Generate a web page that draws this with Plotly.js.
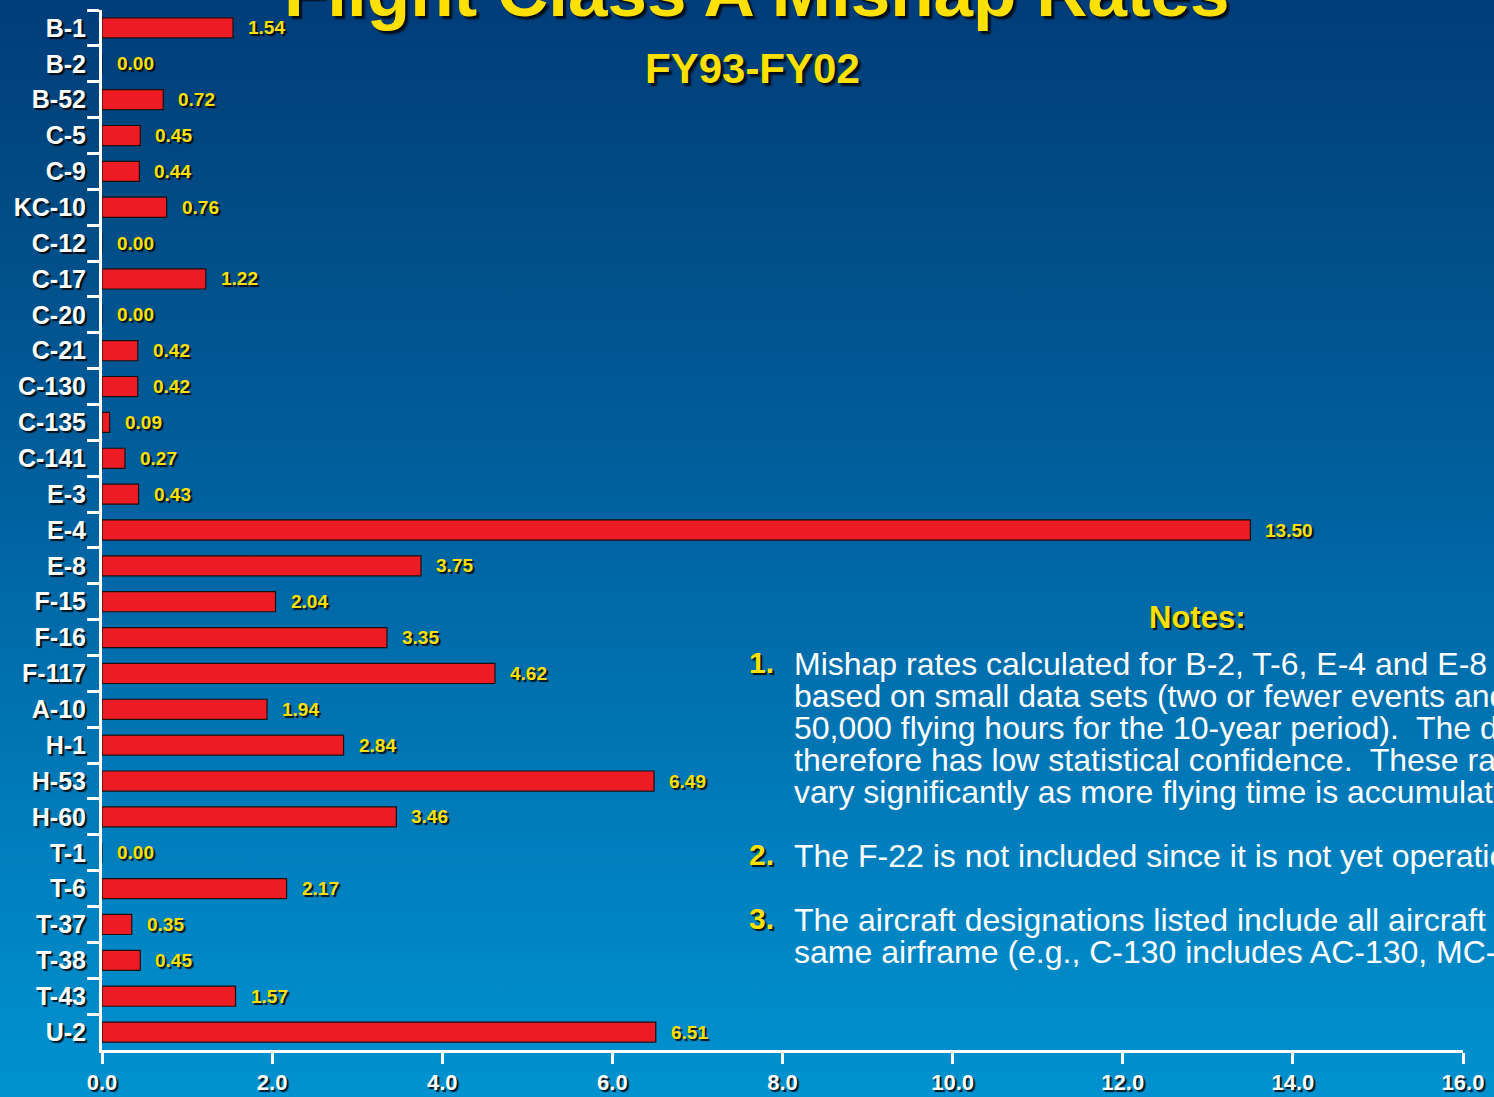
<!DOCTYPE html>
<html>
<head>
<meta charset="utf-8">
<script src="https://cdn.plot.ly/plotly-3.0.1.min.js"></script>
<style>
  html, body { margin: 0; padding: 0; }
  #chart {
    width: 1494px; height: 1097px;
    background: linear-gradient(to bottom, #003d7a 0%, #01467f 12%, #0062a0 47%, #0079b8 72%, #0092d0 100%);
  }
</style>
</head>
<body>
<div id="chart"></div>
<script>
// Class A mishap rates per aircraft type, FY93-FY02
const aircraft = ["B-1", "B-2", "B-52", "C-5", "C-9", "KC-10", "C-12", "C-17", "C-20", "C-21",
  "C-130", "C-135", "C-141", "E-3", "E-4", "E-8", "F-15", "F-16", "F-117", "A-10",
  "H-1", "H-53", "H-60", "T-1", "T-6", "T-37", "T-38", "T-43", "U-2"];
const rates = [1.54, 0.00, 0.72, 0.45, 0.44, 0.76, 0.00, 1.22, 0.00, 0.42,
  0.42, 0.09, 0.27, 0.43, 13.50, 3.75, 2.04, 3.35, 4.62, 1.94,
  2.84, 6.49, 3.46, 0.00, 2.17, 0.35, 0.45, 1.57, 6.51];
const xTicks = [0, 2, 4, 6, 8, 10, 12, 14, 16];

const titleText = "Flight Class A Mishap Rates";
const subtitleText = "FY93-FY02";
const notesHeading = "Notes:";
const noteNumbers = ["1.", "2.", "3."];
const noteLines = [
  ["Mishap rates calculated for B-2, T-6, E-4 and E-8 are",
   "based on small data sets (two or fewer events and/or less than",
   "50,000 flying hours for the 10-year period).  The data",
   "therefore has low statistical confidence.  These rates can",
   "vary significantly as more flying time is accumulated."],
  ["The F-22 is not included since it is not yet operational."],
  ["The aircraft designations listed include all aircraft of the",
   "same airframe (e.g., C-130 includes AC-130, MC-130, etc.)."]
];

const W = 1494, H = 1097;
const M = { l: 102, r: 31, t: 10, b: 47 };
const plotW = W - M.l - M.r, plotH = H - M.t - M.b;
const px = p => (p - M.l) / plotW;          // page pixel -> paper x
const py = p => 1 - (p - M.t) / plotH;      // page pixel -> paper y

const FONT = '"Liberation Sans", Arial, Helvetica, sans-serif';
const YELLOW = '#ffe000';
const SHADOW = '2px 2px 1px rgba(0,0,0,0.85)';

const annotations = [];

// value labels next to each bar
aircraft.forEach((a, i) => {
  annotations.push({
    x: rates[i], y: a, xref: 'x', yref: 'y',
    text: rates[i].toFixed(2), showarrow: false,
    xanchor: 'left', yanchor: 'middle', xshift: 13,
    font: { family: FONT, size: 19, color: YELLOW, weight: 700, shadow: SHADOW }
  });
});

// title (runs off the top edge) and subtitle
annotations.push({
  x: px(757), y: py(33), xref: 'paper', yref: 'paper', xanchor: 'center', yanchor: 'bottom',
  text: titleText, showarrow: false,
  font: { family: FONT, size: 71, color: YELLOW, weight: 700, shadow: '3px 3px 2px rgba(0,0,0,0.8)' }
});
annotations.push({
  x: px(752), y: py(68), xref: 'paper', yref: 'paper', xanchor: 'center', yanchor: 'middle',
  text: subtitleText, showarrow: false,
  font: { family: FONT, size: 42, color: YELLOW, weight: 700, shadow: '3px 3px 2px rgba(0,0,0,0.8)' }
});

// notes block
annotations.push({
  x: px(1197), y: py(617), xref: 'paper', yref: 'paper', xanchor: 'center', yanchor: 'middle',
  text: notesHeading, showarrow: false,
  font: { family: FONT, size: 31, color: YELLOW, weight: 700, shadow: SHADOW }
});
const noteStartY = [664, 856, 920];
const lineGap = 32;
noteNumbers.forEach((n, k) => {
  annotations.push({
    x: px(747), y: py(noteStartY[k] - 2), xref: 'paper', yref: 'paper', xanchor: 'left', yanchor: 'middle',
    text: n, showarrow: false,
    font: { family: FONT, size: 30, color: YELLOW, weight: 700, shadow: SHADOW }
  });
  noteLines[k].forEach((line, j) => {
    annotations.push({
      x: px(792), y: py(noteStartY[k] + j * lineGap), xref: 'paper', yref: 'paper',
      xanchor: 'left', yanchor: 'middle', text: line, showarrow: false,
      font: { family: FONT, size: 32, color: '#ffffff' }
    });
  });
});

const trace = {
  type: 'bar', orientation: 'h',
  x: rates, y: aircraft,
  width: 0.56,
  marker: { color: '#ed1c24', line: { color: '#1a1010', width: 1.2 } },
  hoverinfo: 'skip', cliponaxis: false
};

const layout = {
  width: W, height: H,
  margin: M,
  paper_bgcolor: 'rgba(0,0,0,0)',
  plot_bgcolor: 'rgba(0,0,0,0)',
  showlegend: false,
  xaxis: {
    range: [0, 16], tickvals: xTicks, ticktext: xTicks.map(v => v.toFixed(1)),
    showgrid: false, zeroline: false,
    showline: true, linecolor: '#ffffff', linewidth: 3,
    ticks: 'outside', ticklen: 11, tickwidth: 3, tickcolor: '#ffffff',
    ticklabelstandoff: 0,
    tickfont: { family: FONT, size: 22, color: '#ffffff', weight: 700, shadow: SHADOW },
    fixedrange: true
  },
  yaxis: {
    type: 'category', categoryorder: 'array', categoryarray: aircraft,
    autorange: false, range: [aircraft.length - 0.5, -0.5],
    showgrid: false, zeroline: false,
    showline: true, linecolor: '#ffffff', linewidth: 3,
    ticks: 'outside', tickson: 'boundaries', ticklen: 12, tickwidth: 3, tickcolor: '#ffffff',
    ticklabelstandoff: 8,
    tickfont: { family: FONT, size: 25, color: '#ffffff', weight: 700, shadow: SHADOW },
    fixedrange: true
  },
  annotations: annotations
};

Plotly.newPlot('chart', [trace], layout, { displayModeBar: false, staticPlot: true });
</script>
</body>
</html>
